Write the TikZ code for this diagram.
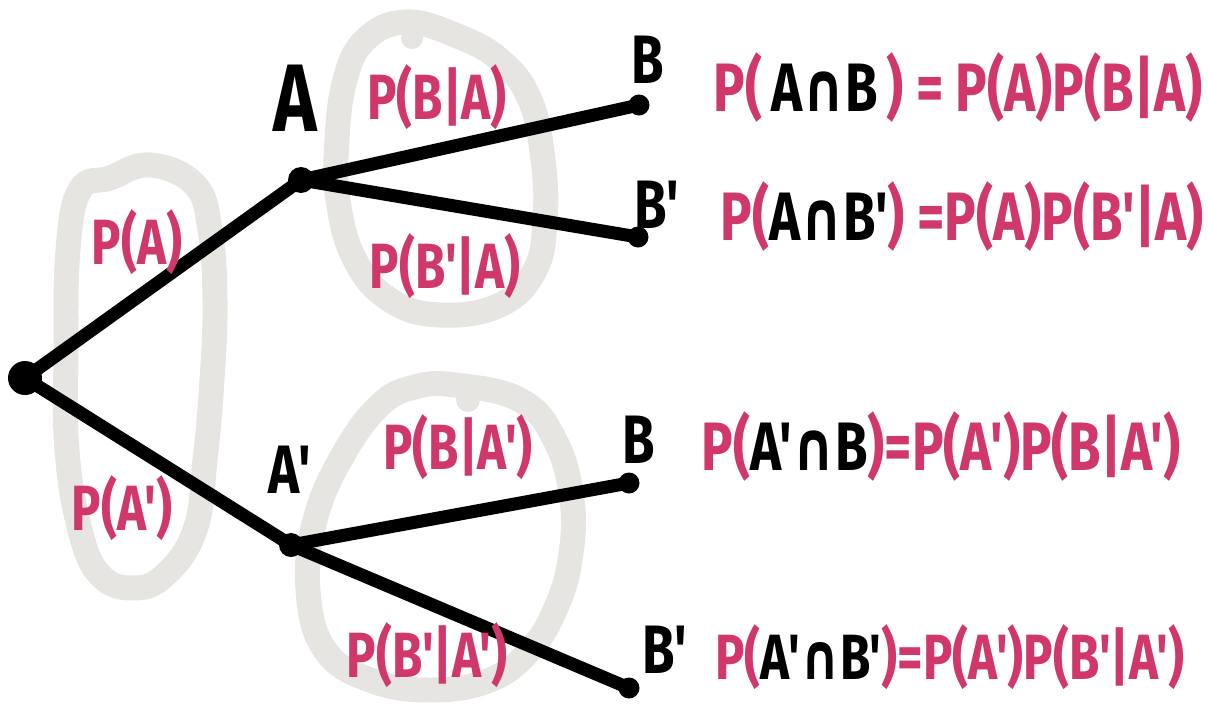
\documentclass[tikz,border=0pt]{standalone}
\usepackage{fontspec}
\usepackage{graphicx}
\newfontfamily\hand{Fira Sans}
\newfontfamily\symf{DejaVu Sans}
\definecolor{pk}{HTML}{D0386B}
\definecolor{lg}{HTML}{E6E5E1}
\newcommand\capp{{\symf\bfseries ∩}}
\newcommand\tall[1]{\scalebox{1}[1.3]{#1}}
\begin{document}
\begin{tikzpicture}[x=0.02cm,y=-0.02cm,
  loopband/.style={draw=lg,line width=0.5cm,line join=round},
  branch/.style={line width=0.26cm,line cap=round},
  dot/.style={circle,fill=black,inner sep=0pt,minimum size=#1},
  lbl/.style={font=\hand\bfseries\fontsize{#1}{#1}\selectfont,inner sep=0pt},
  plbl/.style={text=pk,font=\hand\bfseries\fontsize{28}{30}\selectfont,inner sep=0pt},
  eqn/.style={text=pk,font=\hand\bfseries\fontsize{#1}{32}\selectfont,inner sep=0pt}]
\useasboundingbox (0,0) rectangle (1208,704);
% grey loops
\draw[loopband] plot[smooth cycle,tension=0.7] coordinates {(150,165) (195,185) (210,230) (215,300) (212,380) (205,460) (195,530) (165,575) (133,588) (100,575) (80,530) (67,450) (66,350) (68,250) (80,190) (110,178)};
\draw[loopband] plot[smooth cycle,tension=0.7] coordinates {(405,22) (455,35) (500,60) (530,100) (543,160) (545,220) (535,270) (500,305) (440,315) (390,300) (355,260) (338,200) (337,140) (345,80) (365,40)};
\fill[lg] (412,38) circle (11);
\draw[loopband] plot[smooth cycle,tension=0.7] coordinates {(455,385) (520,400) (555,440) (572,500) (570,560) (555,610) (530,650) (490,680) (430,690) (370,680) (325,650) (308,590) (315,520) (343,455) (380,405) (415,387)};
\fill[lg] (468,400) circle (12);
% tree nodes
\node[dot=0.68cm] (root) at (25,378) {};
\node[dot=0.52cm] (nA) at (301,180) {};
\node[dot=0.48cm] (nAp) at (291,545) {};
\node[dot=0.42cm] (nB1) at (639,105) {};
\node[dot=0.42cm] (nB2) at (638,237) {};
\node[dot=0.42cm] (nB3) at (629,483) {};
\node[dot=0.42cm] (nB4) at (629,688) {};
\draw[branch] (root.center) -- (nA.center);
\draw[branch] (root.center) -- (nAp.center);
\draw[branch] (nA.center) -- (nB1.center);
\draw[branch] (nA.center) -- (nB2.center);
\draw[branch] (nAp.center) -- (nB3.center);
\draw[branch] (nAp.center) -- (nB4.center);
% event labels
\node[lbl=42] (tA) at (295,98) {\tall{A}};
\node[lbl=30] (tB1) at (648,60) {\tall{B}};
\node[lbl=30] (tB2) at (657,205) {\tall{B'}};
\node[lbl=30] (tAp) at (290,470) {\tall{A'}};
\node[lbl=30] (tB3) at (639,440) {\tall{B}};
\node[lbl=30] (tB4) at (665,650) {\tall{B'}};
% probability labels
\node[plbl] (pA) at (137,242) {\tall{P(A)}};
\node[plbl] (pAp) at (122,508) {\tall{P(A')}};
\node[plbl] (pBA) at (437,97) {\tall{P(B|A)}};
\node[plbl] (pBpA) at (445,266) {\tall{P(B'|A)}};
\node[plbl] (pBAp) at (458,447) {\tall{P(B|A')}};
\node[plbl] (pBpAp) at (427,655) {\tall{P(B'|A')}};
% equations
\node[eqn=30] (e1) at (958,88) {\tall{P(\,\textcolor{black}{A\capp B}\,) = P(A)P(B|A)}};
\node[eqn=30] (e2) at (962,217) {\tall{P(\textcolor{black}{A\capp B'}) =P(A)P(B'|A)}};
\node[eqn=30] (e3) at (941,447) {\tall{P(\textcolor{black}{A'\capp B})=P(A')P(B|A')}};
\node[eqn=28] (e4) at (950,657) {\tall{P(\textcolor{black}{A'\capp B'})=P(A')P(B'|A')}};
\end{tikzpicture}
\end{document}
